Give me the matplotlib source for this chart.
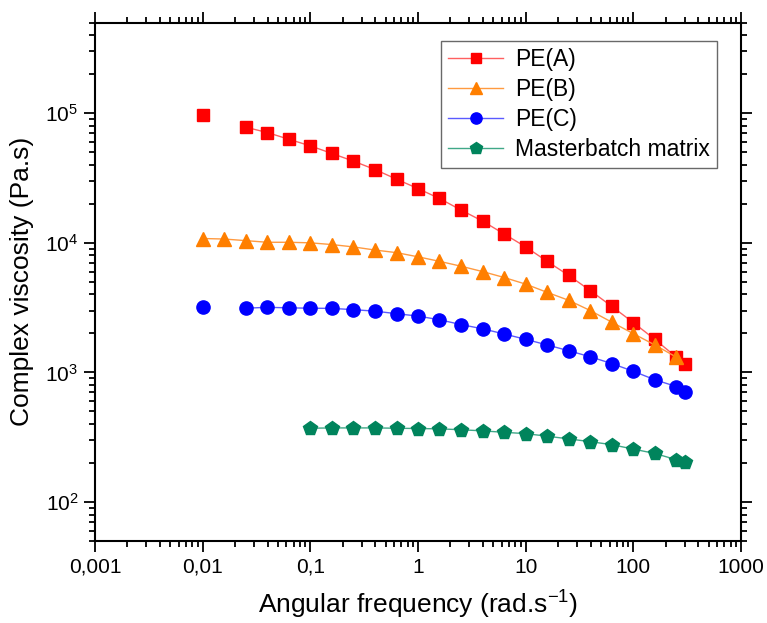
import numpy as np
import matplotlib
matplotlib.use("Agg")
import matplotlib.pyplot as plt
from matplotlib.ticker import FixedLocator, LogLocator, NullFormatter, FixedFormatter

plt.rcParams['font.family'] = ['Liberation Sans', 'DejaVu Sans']
plt.rcParams['mathtext.fontset'] = 'custom'
plt.rcParams['mathtext.rm'] = 'Liberation Sans'
plt.rcParams['mathtext.it'] = 'Liberation Sans'

freq = [0.01, 0.0158, 0.0251, 0.0398, 0.0631, 0.1, 0.158, 0.251, 0.398, 0.631,
        1, 1.58, 2.51, 3.98, 6.31, 10, 15.8, 25.1, 39.8, 63.1, 100, 158, 251, 300]
nan = np.nan
pe_a = [9.7e4, nan, 7.8e4, 7.1e4, 6.3e4, 5.6e4, 4.9e4, 4.27e4, 3.68e4, 3.1e4,
        2.62e4, 2.2e4, 1.79e4, 1.47e4, 1.17e4, 9.3e3, 7.2e3, 5.6e3, 4.28e3, 3.23e3,
        2.42e3, 1.8e3, 1.31e3, 1.16e3]
pe_b = [1.08e4, 1.07e4, 1.04e4, 1.01e4, 1.01e4, 1.0e4, 9.7e3, 9.3e3, 8.8e3, 8.4e3,
        7.8e3, 7.2e3, 6.6e3, 6.0e3, 5.4e3, 4.8e3, 4.15e3, 3.6e3, 3.0e3, 2.44e3,
        1.99e3, 1.63e3, 1.31e3, nan]
pe_c = [3.18e3, nan, 3.13e3, 3.18e3, 3.15e3, 3.13e3, 3.12e3, 3.05e3, 2.97e3, 2.84e3,
        2.72e3, 2.55e3, 2.34e3, 2.17e3, 1.98e3, 1.8e3, 1.63e3, 1.47e3, 1.32e3, 1.17e3,
        1.02e3, 878, 778, 700]
master = [nan, nan, nan, nan, nan, 371, 373, 373, 373, 371,
          369, 367, 361, 354, 345, 337, 322, 307, 292, 277,
          256, 237, 212, 203]

xticks = [0.001, 0.01, 0.1, 1, 10, 100, 1000]
xticklabels = ['0,001', '0,01', '0,1', '1', '10', '100', '1000']
yticks = [1e2, 1e3, 1e4, 1e5]
yticklabels = ['$10^2$', '$10^3$', '$10^4$', '$10^5$']

fig = plt.figure(figsize=(7.67, 6.23), dpi=100)
ax = fig.add_axes([0.1239, 0.1316, 0.8423, 0.832])

series = [
    (pe_a, 'PE(A)', 's', '#ff0000', '#ff6060', 9),
    (pe_b, 'PE(B)', '^', '#ff7f00', '#ff9a40', 10),
    (pe_c, 'PE(C)', 'o', '#0000ff', '#5a5aff', 9.5),
    (master, 'Masterbatch matrix', 'p', '#00845c', '#40a888', 10.5),
]
for vals, lab, mk, col, lcol, ms in series:
    ax.plot(freq, vals, color=lcol, lw=1.0, marker=mk, markersize=ms,
            markerfacecolor=col, markeredgecolor=col, label=lab)

ax.set_xscale('log')
ax.set_yscale('log')
ax.set_xlim(0.001, 1000)
ax.set_ylim(50, 5e5)

ax.xaxis.set_major_locator(FixedLocator(xticks))
ax.xaxis.set_major_formatter(FixedFormatter(xticklabels))
ax.xaxis.set_minor_locator(LogLocator(base=10, subs=np.arange(2, 10), numticks=20))
ax.xaxis.set_minor_formatter(NullFormatter())
ax.yaxis.set_major_locator(FixedLocator(yticks))
ax.yaxis.set_major_formatter(FixedFormatter(yticklabels))
ax.yaxis.set_minor_locator(LogLocator(base=10, subs=np.arange(2, 10), numticks=20))
ax.yaxis.set_minor_formatter(NullFormatter())

ax.tick_params(which='both', direction='out', top=True, right=True, width=1.3, labelsize=15)
ax.tick_params(which='major', length=8, pad=4)
ax.tick_params(which='minor', length=4)
for s in ax.spines.values():
    s.set_linewidth(1.5)

ax.set_xlabel('Angular frequency (rad.s$^{-1}$)', fontsize=19, labelpad=9)
ax.set_ylabel('Complex viscosity (Pa.s)', fontsize=19, labelpad=8)

leg = ax.legend(loc='upper right', bbox_to_anchor=(0.962, 0.964), borderaxespad=0,
                fontsize=16.5, frameon=True, fancybox=False, edgecolor='#444444',
                handlelength=2.4, handletextpad=0.5, labelspacing=0.3, borderpad=0.3,
                markerscale=0.85)
leg.get_frame().set_linewidth(1.0)

fig.savefig('out.png', dpi=100)
